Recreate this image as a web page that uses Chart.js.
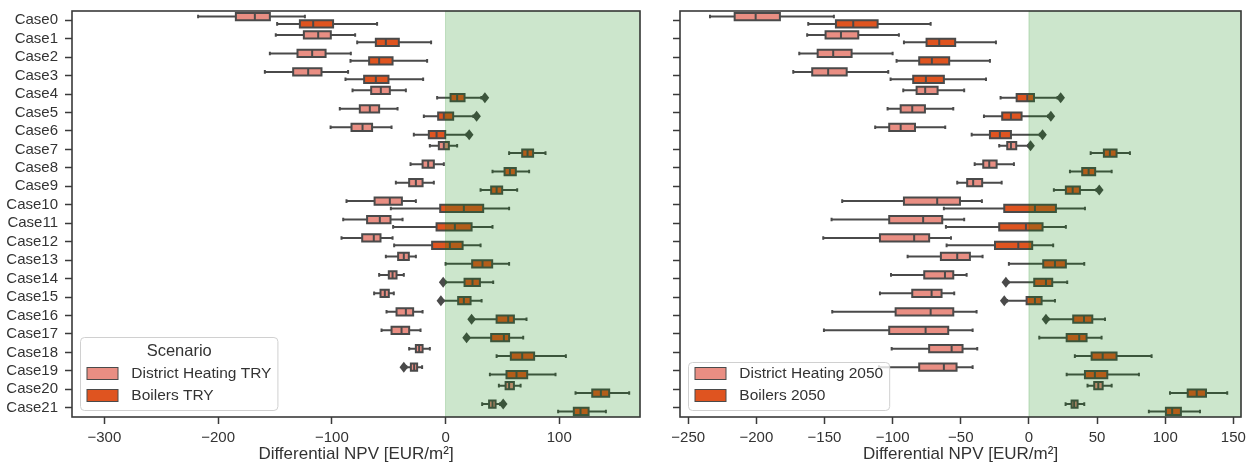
<!DOCTYPE html>
<html>
<head>
<meta charset="utf-8">
<script src="https://cdn.jsdelivr.net/npm/chart.js@4.4.0/dist/chart.umd.min.js"></script>
<style>
  html, body { margin: 0; padding: 0; background: #fff; }
  #wrap { position: relative; width: 1253px; height: 468px; }
  .panel { position: absolute; top: 0; height: 468px; }
  #left { left: 0; width: 650px; }
  #right { left: 650px; width: 603px; }
</style>
</head>
<body>
<div id="wrap">
  <div class="panel" id="left"><canvas id="npvTry" width="650" height="468"></canvas></div>
  <div class="panel" id="right"><canvas id="npv2050" width="603" height="468"></canvas></div>
</div>
<script>
const cases = Array.from({length: 22}, (_, i) => 'Case' + i);

// five-number summaries per case: [whisker low, q1, median, q3, whisker high]
const dhTry = [
  [-217.6, -184.4, -167.7, -154.5, -123.7],
  [-149.3, -124.6, -112.0, -100.9, -79.5],
  [-154.5, -130.2, -117.3, -105.5, -83.3],
  [-158.9, -134.0, -120.8, -109.1, -85.7],
  [-81.8, -65.4, -56.9, -49.0, -34.9],
  [-93.0, -75.4, -66.6, -58.4, -42.2],
  [-101.1, -82.7, -73.0, -64.6, -47.5],
  [-13.8, -5.9, -1.5, 2.9, 10.2],
  [-30.8, -20.2, -15.3, -10.3, -1.5],
  [-43.7, -32.0, -26.1, -20.2, -10.3],
  [-87.1, -62.4, -49.0, -38.4, -26.1],
  [-90.0, -69.0, -57.8, -48.4, -37.8],
  [-91.5, -73.3, -63.1, -57.2, -46.6],
  [-52.5, -41.7, -36.7, -32.3, -26.1],
  [-58.4, -49.9, -46.6, -43.1, -36.7],
  [-62.8, -57.2, -53.4, -49.9, -45.5],
  [-51.9, -43.1, -34.9, -28.5, -20.2],
  [-56.3, -47.5, -38.7, -32.0, -22.0],
  [-32.0, -26.1, -23.2, -20.2, -13.8],
  [-34.5, -30.5, -27.6, -25.0, -20.6],
  [46.9, 52.8, 55.9, 60.1, 66.0],
  [32.2, 38.3, 41.3, 44.0, 48.0]
];
const boilTry = [
  [-148.1, -128.1, -116.4, -98.9, -60.2],
  [-77.7, -61.3, -52.5, -41.1, -12.7],
  [-83.6, -67.2, -58.4, -46.6, -16.2],
  [-88.0, -71.6, -61.3, -50.2, -19.7],
  [-7.4, 4.4, 10.2, 16.7, 31.5],
  [-19.1, -6.5, -1.5, 6.7, 24.5],
  [-27.9, -14.7, -7.9, -0.3, 18.5],
  [55.9, 67.4, 72.1, 77.0, 87.9],
  [41.3, 51.9, 56.6, 61.8, 73.5],
  [30.8, 40.1, 44.9, 49.8, 63.0],
  [-48.1, -4.7, 16.1, 33.1, 55.9],
  [-46.1, -7.9, 8.2, 22.9, 41.3],
  [-45.2, -11.8, 3.8, 15.0, 30.8],
  [0.0, 23.4, 32.5, 41.0, 55.9],
  [0.0, 16.7, 23.7, 30.2, 41.9],
  [-2.0, 11.1, 16.1, 22.0, 31.7],
  [24.5, 44.9, 55.1, 60.1, 71.2],
  [20.2, 40.1, 51.3, 55.9, 68.3],
  [44.9, 57.4, 67.4, 77.9, 105.8],
  [39.0, 53.6, 62.4, 71.8, 96.7],
  [114.3, 129.0, 136.6, 143.9, 161.5],
  [99.0, 112.8, 118.7, 125.8, 141.0]
];
const dh2050 = [
  [-234.0, -215.9, -200.5, -182.7, -143.1],
  [-162.7, -149.2, -137.9, -125.2, -95.4],
  [-168.5, -155.0, -143.6, -130.1, -100.0],
  [-172.9, -159.0, -147.3, -133.7, -103.2],
  [-92.2, -82.4, -76.1, -67.0, -47.5],
  [-103.7, -94.1, -85.6, -76.3, -55.5],
  [-112.8, -102.5, -94.1, -83.6, -61.4],
  [-21.8, -15.9, -13.2, -9.3, -0.5],
  [-39.8, -33.5, -29.1, -23.7, -11.0],
  [-52.6, -45.3, -40.9, -34.3, -20.0],
  [-137.0, -91.7, -67.3, -50.6, -34.5],
  [-144.8, -102.5, -77.6, -63.6, -47.5],
  [-150.9, -109.3, -84.2, -73.2, -57.2],
  [-89.0, -64.6, -52.6, -43.3, -34.0],
  [-101.2, -76.8, -61.6, -55.5, -45.7],
  [-109.3, -85.6, -71.4, -64.1, -54.8],
  [-144.3, -97.8, -72.1, -55.5, -38.4],
  [-150.4, -102.5, -75.8, -59.2, -41.3],
  [-100.7, -73.2, -56.7, -48.7, -37.9],
  [-110.0, -80.5, -62.4, -53.1, -41.3],
  [43.0, 47.9, 50.9, 54.1, 60.7],
  [26.9, 31.3, 33.2, 35.7, 40.6]
];
const boil2050 = [
  [-161.9, -141.6, -128.9, -111.0, -72.1],
  [-91.7, -75.1, -65.8, -54.1, -24.2],
  [-97.1, -80.5, -71.2, -58.5, -28.6],
  [-101.5, -84.9, -75.6, -62.4, -31.5],
  [-20.8, -9.0, -1.2, 3.7, 21.0],
  [-33.0, -19.6, -13.2, -5.4, 14.0],
  [-42.0, -28.6, -21.3, -13.2, 8.0],
  [45.3, 55.0, 59.4, 64.3, 74.1],
  [30.1, 39.1, 43.8, 48.6, 60.7],
  [18.3, 27.1, 32.1, 37.4, 49.5],
  [-62.4, -18.1, 4.4, 19.8, 41.1],
  [-60.9, -21.8, -2.2, 10.0, 27.1],
  [-60.4, -24.9, -7.8, 2.4, 17.8],
  [-14.7, 10.5, 19.1, 27.1, 40.6],
  [-15.0, 3.9, 12.5, 17.1, 28.1],
  [-16.0, -1.7, 4.4, 9.3, 19.1],
  [14.3, 32.5, 40.4, 46.5, 55.8],
  [7.6, 27.7, 36.9, 42.3, 53.3],
  [33.7, 46.0, 54.1, 64.3, 90.0],
  [27.7, 41.1, 48.4, 57.5, 80.7],
  [103.5, 116.5, 123.1, 129.9, 145.5],
  [88.0, 100.5, 105.1, 111.5, 125.5]
];

// fliers per case, same order as cases
const dhTryOut = [[], [], [], [], [], [], [], [], [], [], [], [], [], [], [], [], [], [], [], [-36.7], [], [50.7]];
const boilTryOut = [[], [], [], [], [34.6], [27.3], [20.8], [], [], [], [], [], [], [], [-2.1], [-4.1], [22.9], [18.5], [], [], [], []];
const dh2050Out = [[], [], [], [], [], [], [], [1.2], [], [], [], [], [], [], [], [], [], [], [], [], [], []];
const boil2050Out = [[], [], [], [], [23.3], [16.1], [10.0], [], [], [51.6], [], [], [], [], [-16.9], [-18.1], [12.5], [], [], [], [], []];

const tryTicks = [-300, -200, -100, 0, 100];
const ticks2050 = [-250, -200, -150, -100, -50, 0, 50, 100, 150];

const dhColor = '#e98e83';
const boilColor = '#df5420';
const edge = '#4a4a4a';
const ink = '#333333';

Chart.defaults.font.family = "'Liberation Sans', Arial, sans-serif";
Chart.defaults.color = ink;

// whiskers, medians, outlines, fliers, the positive-NPV band, frame and legend
const boxPlot = {
  id: 'boxPlot',
  afterDatasetsDraw(chart) {
    const {ctx, chartArea: a, scales: {x}} = chart;
    const px = v => x.getPixelForValue(v);
    ctx.save();
    ctx.strokeStyle = edge;
    ctx.fillStyle = edge;
    ctx.lineWidth = 2;
    ctx.lineCap = 'butt';
    chart.data.datasets.forEach((ds, i) => {
      chart.getDatasetMeta(i).data.forEach((bar, j) => {
        const [lo, q1, med, q3, hi] = ds.stats[j];
        const y = bar.y, h = bar.height, cap = h / 4;
        ctx.beginPath();
        ctx.rect(px(q1), y - h / 2, px(q3) - px(q1), h);
        ctx.moveTo(px(med), y - h / 2); ctx.lineTo(px(med), y + h / 2);
        ctx.moveTo(px(lo), y); ctx.lineTo(px(q1), y);
        ctx.moveTo(px(q3), y); ctx.lineTo(px(hi), y);
        ctx.moveTo(px(lo), y - cap); ctx.lineTo(px(lo), y + cap);
        ctx.moveTo(px(hi), y - cap); ctx.lineTo(px(hi), y + cap);
        ctx.stroke();
        ds.outliers[j].forEach(v => {
          const cx = px(v);
          ctx.beginPath();
          ctx.moveTo(cx, y - 5.5);
          ctx.lineTo(cx + 4.3, y);
          ctx.lineTo(cx, y + 5.5);
          ctx.lineTo(cx - 4.3, y);
          ctx.closePath();
          ctx.fill();
        });
      });
    });
    // green band over the positive side
    const x0 = px(0);
    ctx.fillStyle = 'rgba(0, 128, 0, 0.2)';
    ctx.strokeStyle = 'rgba(0, 128, 0, 0.2)';
    ctx.lineWidth = 1;
    ctx.fillRect(x0, a.top, a.right - x0, a.bottom - a.top);
    ctx.strokeRect(x0, a.top, a.right - x0, a.bottom - a.top);
    ctx.restore();
  },
  afterDraw(chart, args, opts) {
    const {ctx, chartArea: a} = chart;
    ctx.save();
    ctx.strokeStyle = '#3a3a3a';
    ctx.lineWidth = 1.6;
    ctx.strokeRect(a.left, a.top, a.right - a.left, a.bottom - a.top);

    // legend box
    const items = chart.data.datasets.map(d => ({text: d.label, color: d.backgroundColor}));
    const font = "15.5px 'Liberation Sans', Arial, sans-serif";
    ctx.font = font;
    const textW = Math.max(...items.map(it => ctx.measureText(it.text).width));
    const padX = 6.5, patchW = 31, patchH = 12, gap = 13.3, rowH = 22;
    const firstRow = opts.title ? 36 : 11;
    const w = padX + patchW + gap + textW + padX;
    const h = firstRow + rowH * (items.length - 1) + 15;
    const bx = a.left + 8.5;
    const by = a.bottom - 6.5 - h;
    ctx.beginPath();
    ctx.roundRect(bx, by, w, h, 4);
    ctx.fillStyle = 'rgba(255, 255, 255, 0.8)';
    ctx.fill();
    ctx.strokeStyle = '#d0d0d0';
    ctx.lineWidth = 1;
    ctx.stroke();
    ctx.textBaseline = 'middle';
    if (opts.title) {
      ctx.font = "16.5px 'Liberation Sans', Arial, sans-serif";
      ctx.fillStyle = ink;
      ctx.textAlign = 'center';
      ctx.fillText(opts.title, bx + w / 2, by + 13.5);
    }
    ctx.font = font;
    ctx.textAlign = 'left';
    items.forEach((it, k) => {
      const cy = by + firstRow + k * rowH;
      ctx.fillStyle = it.color;
      ctx.fillRect(bx + padX, cy - patchH / 2, patchW, patchH);
      ctx.strokeStyle = edge;
      ctx.strokeRect(bx + padX, cy - patchH / 2, patchW, patchH);
      ctx.fillStyle = ink;
      ctx.fillText(it.text, bx + padX + patchW + gap, cy + 0.5);
    });
    ctx.restore();
  }
};

function npvChart(id, dh, boil, dhOut, boilOut, names, tickValues, xMin, xMax, yWidth, showCases, padRight, legendTitle) {
  return new Chart(document.getElementById(id), {
    type: 'bar',
    data: {
      labels: cases,
      datasets: [
        {label: names[0], data: dh.map(s => [s[1], s[3]]), stats: dh, outliers: dhOut,
         backgroundColor: dhColor, borderWidth: 0},
        {label: names[1], data: boil.map(s => [s[1], s[3]]), stats: boil, outliers: boilOut,
         backgroundColor: boilColor, borderWidth: 0}
      ]
    },
    options: {
      indexAxis: 'y',
      responsive: false,
      animation: false,
      events: [],
      layout: {padding: {top: 11, right: padRight, left: 0, bottom: 0}},
      datasets: {bar: {categoryPercentage: 0.8, barPercentage: 0.98, inflateAmount: 0}},
      scales: {
        x: {
          type: 'linear',
          min: xMin,
          max: xMax,
          afterBuildTicks: s => { s.ticks = tickValues.map(v => ({value: v})); },
          afterFit: s => { s.height = 51; s.paddingLeft = 0; s.paddingRight = 0; },
          border: {display: false},
          grid: {drawOnChartArea: false, drawTicks: true, tickLength: 7, tickWidth: 1.5, tickColor: '#3a3a3a'},
          ticks: {font: {size: 15}, color: ink, padding: 5, maxRotation: 0,
                  callback: v => String(v).replace('-', '\u2212')},
          title: {display: true, text: 'Differential NPV [EUR/m²]', font: {size: 17}, color: ink,
                  padding: {top: 0, bottom: 3}}
        },
        y: {
          type: 'category',
          offset: true,
          afterFit: s => { s.width = yWidth; s.paddingTop = 0; s.paddingBottom = 0; },
          border: {display: false},
          grid: {offset: false, drawOnChartArea: false, drawTicks: true, tickLength: 7, tickWidth: 1.5, tickColor: '#3a3a3a'},
          ticks: {font: {size: 15}, color: ink, padding: 7, autoSkip: false,
                  callback: function (v) { return showCases ? this.getLabelForValue(v) : ''; }}
        }
      },
      plugins: {
        legend: {display: false},
        tooltip: {enabled: false},
        boxPlot: {title: legendTitle}
      }
    },
    plugins: [boxPlot]
  });
}

npvChart('npvTry', dhTry, boilTry, dhTryOut, boilTryOut,
  ['District Heating TRY', 'Boilers TRY'], tryTicks, -328.5, 171, 72, true, 10, 'Scenario');
npvChart('npv2050', dh2050, boil2050, dh2050Out, boil2050Out,
  ['District Heating 2050', 'Boilers 2050'], ticks2050, -256, 155.6, 30, false, 12, null);
</script>
</body>
</html>
